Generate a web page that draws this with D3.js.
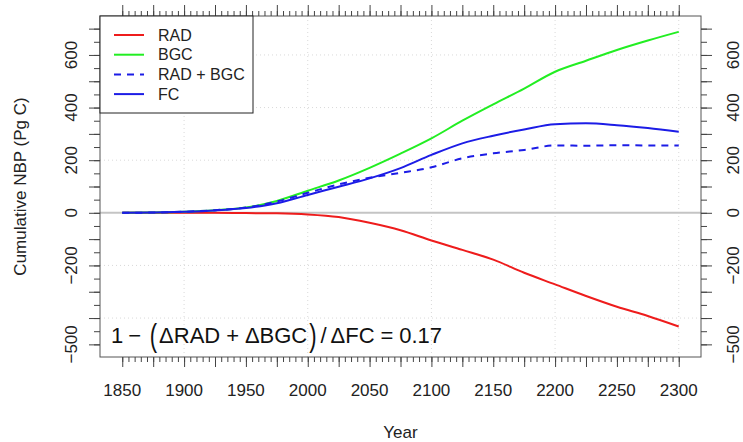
<!DOCTYPE html>
<html>
<head>
<meta charset="utf-8">
<script src="https://cdn.jsdelivr.net/npm/d3@7"></script>
<style>
  html, body { margin: 0; padding: 0; background: #fff; }
  svg { display: block; font-family: "Liberation Sans", Arial, Helvetica, sans-serif; }
</style>
</head>
<body>
<svg id="chart" width="743" height="442"></svg>
<script>
// Cumulative net biome production (Pg C) by simulation
const years  = [1850, 1875, 1900, 1925, 1950, 1975, 2000, 2025, 2050, 2075, 2100, 2125, 2150, 2175, 2200, 2225, 2250, 2275, 2300];
const rad    = [0, 0, 0, 0, -1, -2, -6, -16, -38, -66, -105, -141, -178, -228, -272, -316, -357, -392, -432];
const bgc    = [0, 1, 4, 10, 20, 45, 84, 123, 171, 225, 283, 350, 412, 472, 536, 578, 619, 655, 688];
const radBgc = [0, 1, 4, 10, 20, 43, 76, 108, 133, 152, 173, 207, 226, 239, 256, 255, 257, 256, 256];
const fc     = [0, 1, 4, 9, 18, 36, 68, 99, 131, 170, 220, 264, 293, 317, 337, 340, 333, 322, 308];

const seriesNames  = ["RAD", "BGC", "RAD + BGC", "FC"];
const seriesValues = [rad, bgc, radBgc, fc];
const seriesColors = ["#ee1c1c", "#22ee22", "#1c1ce6", "#1c1ce6"];
const seriesDashes = [null, null, "7,6", null];

const xLabelTicks = [1850, 1900, 1950, 2000, 2050, 2100, 2150, 2200, 2250, 2300];
const yLabelTicks = [600, 400, 200, 0, -200, -500];
const xGridTicks  = [1900, 2000, 2100, 2200, 2300];
const yGridTicks  = [-400, -200, 200, 400, 600];
const ratioValue  = 0.17;

const svg = d3.select("#chart");
const pLeft = 100, pRight = 701, pTop = 16, pBottom = 357;

const x = d3.scaleLinear().domain([1832, 2318]).range([pLeft, pRight]);
const y = d3.scaleLinear().domain([-548, 748]).range([pBottom, pTop]);

// dotted grid
svg.append("g").selectAll("line").data(xGridTicks).join("line")
  .attr("x1", d => x(d)).attr("x2", d => x(d))
  .attr("y1", pTop).attr("y2", pBottom)
  .attr("stroke", "#d9d9d9").attr("stroke-width", 1).attr("stroke-dasharray", "1,3");
svg.append("g").selectAll("line").data(yGridTicks).join("line")
  .attr("x1", pLeft).attr("x2", pRight)
  .attr("y1", d => y(d)).attr("y2", d => y(d))
  .attr("stroke", "#d9d9d9").attr("stroke-width", 1).attr("stroke-dasharray", "1,3");

// zero reference line
svg.append("line")
  .attr("x1", pLeft).attr("x2", pRight)
  .attr("y1", y(0)).attr("y2", y(0))
  .attr("stroke", "#c4c4c4").attr("stroke-width", 2);

// series lines
const line = d3.line()
  .x((d, i) => x(years[i]))
  .y(d => y(d))
  .curve(d3.curveMonotoneX);

seriesValues.forEach((vals, k) => {
  svg.append("path")
    .datum(vals)
    .attr("d", line)
    .attr("fill", "none")
    .attr("stroke", seriesColors[k])
    .attr("stroke-width", 2)
    .attr("stroke-dasharray", seriesDashes[k]);
});

// frame
svg.append("rect")
  .attr("x", pLeft).attr("y", pTop)
  .attr("width", pRight - pLeft).attr("height", pBottom - pTop)
  .attr("fill", "none").attr("stroke", "#555").attr("stroke-width", 1);

// axes ticks (minor and major on all four sides)
const xMinor = d3.range(1850, 2301, 5);
const xMajor = d3.range(1850, 2301, 25);
const yMinor = d3.range(-500, 701, 50);
const yMajor = d3.range(-500, 701, 100);

function ticks(axisFn, scale, values, size, transform) {
  const g = svg.append("g").attr("transform", transform)
    .call(axisFn(scale).tickValues(values).tickSize(size).tickFormat(""));
  g.select(".domain").remove();
  g.selectAll(".tick line").attr("stroke", "#444").attr("stroke-width", 1);
  return g;
}
ticks(d3.axisBottom, x, xMinor, 5, `translate(0,${pBottom})`);
ticks(d3.axisBottom, x, xMajor, 10, `translate(0,${pBottom})`);
ticks(d3.axisTop, x, xMinor, 5, `translate(0,${pTop})`);
ticks(d3.axisTop, x, xMajor, 11, `translate(0,${pTop})`);
ticks(d3.axisLeft, y, yMinor, 6, `translate(${pLeft},0)`);
ticks(d3.axisLeft, y, yMajor, 11, `translate(${pLeft},0)`);
ticks(d3.axisRight, y, yMinor, 6, `translate(${pRight},0)`);
ticks(d3.axisRight, y, yMajor, 11, `translate(${pRight},0)`);

// tick labels
const fmt = d3.format("d");
svg.append("g").selectAll("text").data(xLabelTicks).join("text")
  .attr("x", d => x(d)).attr("y", 396)
  .attr("text-anchor", "middle").attr("font-size", 17).attr("fill", "#222")
  .text(d => d);

svg.append("g").selectAll("text").data(yLabelTicks).join("text")
  .attr("transform", d => `translate(77,${y(d)}) rotate(-90)`)
  .attr("text-anchor", "middle").attr("font-size", 17).attr("fill", "#222")
  .text(d => fmt(d));

svg.append("g").selectAll("text").data(yLabelTicks).join("text")
  .attr("transform", d => `translate(739.3,${y(d)}) rotate(-90)`)
  .attr("text-anchor", "middle").attr("font-size", 17).attr("fill", "#222")
  .text(d => fmt(d));

// axis titles
svg.append("text")
  .attr("x", (pLeft + pRight) / 2).attr("y", 438)
  .attr("text-anchor", "middle").attr("font-size", 17).attr("fill", "#222")
  .text("Year");
svg.append("text")
  .attr("transform", `translate(26,${(pTop + pBottom) / 2}) rotate(-90)`)
  .attr("text-anchor", "middle").attr("font-size", 17).attr("fill", "#222")
  .text("Cumulative NBP (Pg C)");

// legend
const legend = svg.append("g");
legend.append("rect")
  .attr("x", pLeft).attr("y", pTop).attr("width", 153).attr("height", 97)
  .attr("fill", "#fff").attr("stroke", "#222").attr("stroke-width", 1);
seriesNames.forEach((name, k) => {
  const ly = 35 + k * 19.7;
  legend.append("line")
    .attr("x1", 114).attr("x2", 144).attr("y1", ly).attr("y2", ly)
    .attr("stroke", seriesColors[k]).attr("stroke-width", 2)
    .attr("stroke-dasharray", seriesDashes[k]);
  legend.append("text")
    .attr("x", 158).attr("y", ly + 5.5)
    .attr("font-size", 16).attr("fill", "#222")
    .text(name);
});

// attribution ratio annotation, laid out piece by piece like a typeset formula
const eqStart = 111, eqEnd = 442, eqBase = 343, eqSize = 22;
const eqPieces = [
  { t: "1", gap: 5 },
  { t: "\u2212", gap: 9 },
  { t: "(", gap: 2, paren: true },
  { t: "\u0394RAD", gap: 6 },
  { t: "+", gap: 6 },
  { t: "\u0394BGC", gap: 2 },
  { t: ")", gap: 4, paren: true },
  { t: "/", gap: 4 },
  { t: "\u0394FC", gap: 6 },
  { t: "=", gap: 6 },
  { t: String(ratioValue), gap: 0 }
];
const eq = svg.append("g").attr("fill", "#111").attr("font-size", eqSize);
const nodes = eqPieces.map(p => {
  const el = eq.append("text").text(p.t);
  return { p, el, w: el.node().getComputedTextLength() };
});
const textW = d3.sum(nodes, n => n.w);
const gapW = d3.sum(eqPieces, p => p.gap);
const gapScale = Math.max(0.3, (eqEnd - eqStart - textW) / gapW);
let cursor = eqStart;
nodes.forEach(n => {
  if (n.p.paren) {
    n.el.attr("transform", `translate(${cursor},${eqBase + 2.5}) scale(1,1.45)`);
  } else {
    n.el.attr("x", cursor).attr("y", eqBase);
  }
  cursor += n.w + n.p.gap * gapScale;
});
</script>
</body>
</html>
